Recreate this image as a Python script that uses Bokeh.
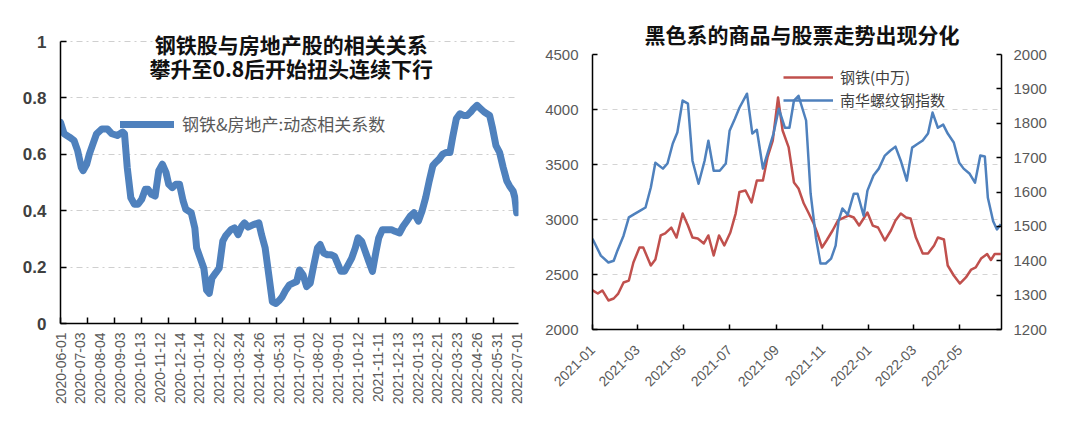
import math
import pandas as pd
from bokeh.plotting import figure
from bokeh.layouts import row
from bokeh.models import Range1d, LinearAxis, FixedTicker, Legend, LegendItem, Label
from bokeh.embed import file_html
from bokeh.resources import INLINE

# ---------------- left chart data ----------------
left_title = ["钢铁股与房地产股的相关关系", "攀升至0.8后开始扭头连续下行"]
left_series = "钢铁&房地产:动态相关系数"
# trading-day index (0 = 2020-06-01) and correlation value
left_days = [0, 4, 10, 15, 19, 23, 25, 29, 32, 36, 40, 46, 52, 57, 63, 69, 71, 74, 78, 82,
             86, 90, 94, 97, 101, 105, 109, 113, 117, 120, 124, 128, 132, 136, 139, 145, 149, 151, 155, 159,
             162, 165, 168, 172, 176, 180, 183, 189, 193, 197, 201, 204, 208, 214, 220, 223, 227, 231, 235, 239,
             243, 246, 250, 254, 258, 262, 265, 269, 273, 277, 281, 285, 288, 292, 296, 300, 304, 308, 311, 315,
             319, 323, 327, 330, 334, 338, 342, 346, 350, 353, 357, 361, 367, 371, 376, 380, 384, 388, 392, 395,
             397, 401, 405, 409, 413, 416, 420, 424, 428, 432, 435, 439, 443, 447, 451, 455, 458, 462, 466, 470,
             476, 479, 483, 487, 491, 495, 498, 502, 504, 506]
left_vals = [0.714, 0.673, 0.661, 0.649, 0.613, 0.554, 0.542, 0.565, 0.601, 0.637, 0.673, 0.690, 0.690, 0.673, 0.667, 0.679, 0.673, 0.554, 0.446, 0.423,
             0.423, 0.440, 0.476, 0.476, 0.458, 0.452, 0.542, 0.565, 0.536, 0.494, 0.482, 0.494, 0.494, 0.435, 0.405, 0.393, 0.339, 0.268, 0.232, 0.196,
             0.119, 0.107, 0.161, 0.179, 0.196, 0.292, 0.310, 0.333, 0.339, 0.315, 0.345, 0.357, 0.342, 0.351, 0.357, 0.315, 0.268, 0.173, 0.077, 0.071,
             0.083, 0.095, 0.119, 0.137, 0.143, 0.149, 0.190, 0.173, 0.131, 0.143, 0.208, 0.268, 0.280, 0.250, 0.244, 0.244, 0.238, 0.208, 0.185, 0.185,
             0.208, 0.232, 0.268, 0.304, 0.292, 0.256, 0.220, 0.185, 0.256, 0.304, 0.333, 0.333, 0.333, 0.327, 0.321, 0.345, 0.363, 0.381, 0.393, 0.375,
             0.363, 0.399, 0.446, 0.506, 0.560, 0.571, 0.583, 0.601, 0.607, 0.607, 0.661, 0.726, 0.744, 0.738, 0.738, 0.750, 0.762, 0.774, 0.762, 0.750,
             0.738, 0.696, 0.631, 0.607, 0.554, 0.506, 0.488, 0.470, 0.446, 0.393]
left_xlabels = ["2020-06-01", "2020-07-03", "2020-08-04", "2020-09-03", "2020-10-13", "2020-11-12",
                "2020-12-14", "2021-01-14", "2021-02-22", "2021-03-24", "2021-04-26", "2021-05-31",
                "2021-07-01", "2021-08-02", "2021-09-01", "2021-10-12", "2021-11-11", "2021-12-13",
                "2022-01-13", "2022-02-21", "2022-03-23", "2022-04-26", "2022-05-31", "2022-07-01"]
left_label_step = 22
left_tick_step = 30
left_yticks = [0, 0.2, 0.4, 0.6, 0.8, 1]
left_ylabels = ["0", "0.2", "0.4", "0.6", "0.8", "1"]

# ---------------- right chart data ----------------
right_title = "黑色系的商品与股票走势出现分化"
red_name = "钢铁(中万)"
blue_name = "南华螺纹钢指数"
red_dates = ["2021-01-01", "2021-01-08", "2021-01-14", "2021-01-22", "2021-01-29", "2021-02-04", "2021-02-11",
             "2021-02-18", "2021-02-24", "2021-03-04", "2021-03-09", "2021-03-19", "2021-03-25", "2021-04-01",
             "2021-04-07", "2021-04-15", "2021-04-22", "2021-04-30", "2021-05-07", "2021-05-13", "2021-05-20",
             "2021-05-28", "2021-06-03", "2021-06-10", "2021-06-17", "2021-06-24", "2021-07-02", "2021-07-09",
             "2021-07-14", "2021-07-22", "2021-07-30", "2021-08-06", "2021-08-14", "2021-08-20", "2021-08-27",
             "2021-09-03", "2021-09-09", "2021-09-17", "2021-09-24", "2021-09-30", "2021-10-07", "2021-10-13",
             "2021-10-20", "2021-10-25", "2021-10-31", "2021-11-06", "2021-11-14", "2021-11-21", "2021-11-29",
             "2021-12-05", "2021-12-12", "2021-12-19", "2021-12-25", "2021-12-30", "2022-01-06", "2022-01-13",
             "2022-01-22", "2022-01-30", "2022-02-05", "2022-02-12", "2022-02-19", "2022-02-25", "2022-03-04",
             "2022-03-13", "2022-03-20", "2022-03-28", "2022-04-02", "2022-04-10", "2022-04-15", "2022-04-23",
             "2022-05-01", "2022-05-09", "2022-05-16", "2022-05-22", "2022-05-29", "2022-06-06", "2022-06-11",
             "2022-06-16", "2022-06-24"]
red_vals = [2355, 2327, 2355, 2264, 2282, 2327, 2427, 2445, 2609, 2745,
            2745, 2582, 2636, 2855, 2873, 2927, 2836, 3054, 2945, 2836,
            2827, 2782, 2855, 2673, 2855, 2764, 2882, 3054, 3250, 3264,
            3155, 3355, 3355, 3564, 3718, 4109, 3809, 3655, 3336, 3282,
            3145, 3064, 2964, 2873, 2745, 2809, 2900, 2991, 3018, 3036,
            3018, 2945, 3009, 3064, 2945, 2927, 2809, 2900, 2991, 3054,
            3018, 3009, 2836, 2691, 2691, 2764, 2836, 2818, 2582, 2491,
            2418, 2473, 2545, 2564, 2645, 2686, 2632, 2686, 2686]
blue_dates = ["2021-01-01", "2021-01-12", "2021-01-22", "2021-01-29", "2021-02-03", "2021-02-11", "2021-02-18",
              "2021-02-24", "2021-03-05", "2021-03-12", "2021-03-19", "2021-03-25", "2021-04-04", "2021-04-10",
              "2021-04-17", "2021-04-23", "2021-04-30", "2021-05-07", "2021-05-13", "2021-05-21", "2021-05-29",
              "2021-06-03", "2021-06-10", "2021-06-18", "2021-06-26", "2021-07-01", "2021-07-08", "2021-07-14",
              "2021-07-24", "2021-07-31", "2021-08-06", "2021-08-14", "2021-08-20", "2021-08-28", "2021-09-04",
              "2021-09-12", "2021-09-18", "2021-09-24", "2021-09-30", "2021-10-10", "2021-10-16", "2021-10-23",
              "2021-10-29", "2021-11-05", "2021-11-12", "2021-11-18", "2021-11-22", "2021-11-27", "2021-12-04",
              "2021-12-12", "2021-12-17", "2021-12-25", "2021-12-30", "2022-01-07", "2022-01-14", "2022-01-22",
              "2022-01-29", "2022-02-05", "2022-02-12", "2022-02-20", "2022-02-27", "2022-03-05", "2022-03-13",
              "2022-03-20", "2022-03-26", "2022-04-02", "2022-04-09", "2022-04-15", "2022-04-23", "2022-04-30",
              "2022-05-06", "2022-05-14", "2022-05-21", "2022-05-28", "2022-06-03", "2022-06-07", "2022-06-14",
              "2022-06-19", "2022-06-24"]
blue_vals = [1464, 1415, 1395, 1400, 1430, 1473, 1526, 1534, 1546, 1555,
             1613, 1685, 1668, 1683, 1741, 1773, 1866, 1857, 1691, 1624,
             1691, 1749, 1662, 1662, 1683, 1778, 1813, 1845, 1886, 1770,
             1781, 1668, 1712, 1770, 1842, 1787, 1787, 1866, 1880, 1808,
             1595, 1467, 1392, 1392, 1406, 1444, 1517, 1552, 1534, 1595,
             1595, 1531, 1604, 1648, 1668, 1706, 1720, 1732, 1691, 1633,
             1729, 1738, 1750, 1770, 1831, 1787, 1796, 1770, 1744, 1686,
             1668, 1653, 1627, 1706, 1703, 1583, 1515, 1491, 1506]
right_xticks = ["2021-01", "2021-03", "2021-05", "2021-07", "2021-09", "2021-11", "2022-01", "2022-03", "2022-05"]
right_left_ticks = [2000, 2500, 3000, 3500, 4000, 4500]
right_right_ticks = [1200, 1300, 1400, 1500, 1600, 1700, 1800, 1900, 2000]

NUM_FONT = "Liberation Sans"
CJK_FONT = "Noto Sans CJK SC"
BLUE = "#4f81bd"
RED = "#c0504d"

# ================= left figure =================
n_days = left_days[-1]
y_top = left_yticks[-1]
p1 = figure(width=530, height=427, x_range=Range1d(0, n_days + 2), y_range=Range1d(0, y_top * 1.05),
            output_backend="svg", toolbar_location=None,
            min_border_left=60, min_border_right=12, min_border_top=27, min_border_bottom=104,
            outline_line_color=None)
p1.frame_align = False
p1.xgrid.visible = False
yt1 = FixedTicker(ticks=left_yticks)
p1.yaxis[0].ticker = yt1
p1.ygrid[0].ticker = yt1
p1.ygrid.grid_line_color = "#cfcfcf"
p1.ygrid.grid_line_dash = "6 4 2 4"
p1.ygrid.grid_line_width = 1.2

ya = p1.yaxis[0]
ya.bounds = (0, y_top)
ya.major_label_overrides = dict(zip(left_yticks, left_ylabels))
ya.major_tick_in = 6
ya.major_tick_out = 0
ya.minor_tick_line_color = None
ya.axis_line_color = "black"
ya.axis_line_width = 1.5
ya.major_tick_line_color = "black"
ya.major_tick_line_width = 1.5
ya.major_label_text_font = NUM_FONT
ya.major_label_text_font_size = "17px"
ya.major_label_text_font_style = "bold"
ya.major_label_text_color = "#404040"
ya.major_label_standoff = 14

label_days = [i * left_label_step for i in range(len(left_xlabels))]
tick_days = list(range(0, n_days + 1, left_tick_step))
xa = p1.xaxis[0]
xa.ticker = FixedTicker(ticks=label_days, minor_ticks=tick_days)
xa.major_label_overrides = dict(zip(label_days, left_xlabels))
xa.major_tick_in = 0
xa.major_tick_out = 0
xa.minor_tick_in = 6
xa.minor_tick_out = 0
xa.minor_tick_line_color = "black"
xa.minor_tick_line_width = 1.5
xa.axis_line_color = "black"
xa.axis_line_width = 1.5
xa.major_label_orientation = math.pi / 2
xa.major_label_standoff = 9
xa.major_label_text_font = NUM_FONT
xa.major_label_text_font_size = "14px"
xa.major_label_text_color = "#595959"

r_left = p1.line(left_days, left_vals, line_width=7, line_color=BLUE, line_join="round", line_cap="round")

leg1 = Legend(items=[LegendItem(label=left_series, renderers=[r_left])], location=(60, 187),
              glyph_width=54, glyph_height=22, label_height=22, label_standoff=8,
              padding=0, margin=0, border_line_color=None, background_fill_alpha=0,
              label_text_font=CJK_FONT, label_text_font_size="17px", label_text_color="#595959")
p1.add_layout(leg1)

# first title line hides the top gridline behind it; second line has no box
p1.add_layout(Label(x=256, y=0.993, text=left_title[0], text_align="center", text_baseline="middle",
                    text_font=CJK_FONT, text_font_style="bold", text_font_size="21px",
                    text_color="#111111", background_fill_color="white"))
p1.add_layout(Label(x=256, y=0.906, text=left_title[1], text_align="center", text_baseline="middle",
                    text_font=CJK_FONT, text_font_style="bold", text_font_size="21px",
                    text_color="#111111"))

# ================= right figure =================
p2 = figure(width=550, height=427, x_axis_type="datetime",
            x_range=Range1d(pd.Timestamp("2021-01-01"), pd.Timestamp("2022-06-25")),
            y_range=Range1d(right_left_ticks[0], right_left_ticks[-1]),
            output_backend="svg", toolbar_location=None,
            min_border_left=62, min_border_right=79, min_border_top=54, min_border_bottom=98,
            outline_line_color=None)
p2.frame_align = False
p2.extra_y_ranges = {"nh": Range1d(right_right_ticks[0], right_right_ticks[-1])}
p2.title.text = right_title
p2.title.align = "left"
p2.title.offset = 52
p2.title.text_font = CJK_FONT
p2.title.text_font_style = "bold"
p2.title.text_font_size = "21px"
p2.title.text_color = "#111111"
p2.title.standoff = 12

p2.xgrid.visible = False
yt2 = FixedTicker(ticks=right_left_ticks)
p2.yaxis[0].ticker = yt2
p2.ygrid[0].ticker = yt2
p2.ygrid.grid_line_color = "#d4d4d4"
p2.ygrid.grid_line_dash = "5 5"
p2.ygrid.grid_line_width = 1.2

red_x = pd.to_datetime(red_dates)
blue_x = pd.to_datetime(blue_dates)
r_red = p2.line(red_x, red_vals, line_width=2.5, line_color=RED, line_join="round")
r_blue = p2.line(blue_x, blue_vals, line_width=2.5, line_color=BLUE, line_join="round", y_range_name="nh")

ax_r = LinearAxis(y_range_name="nh", ticker=FixedTicker(ticks=right_right_ticks))
p2.add_layout(ax_r, "right")

for ax, standoff in [(p2.yaxis[0], 14), (ax_r, 12)]:
    ax.major_tick_in = 5
    ax.major_tick_out = 0
    ax.minor_tick_line_color = None
    ax.axis_line_color = "black"
    ax.axis_line_width = 1.5
    ax.major_tick_line_color = "black"
    ax.major_tick_line_width = 1.5
    ax.major_label_text_font = NUM_FONT
    ax.major_label_text_font_size = "15px"
    ax.major_label_text_color = "#595959"
    ax.major_label_standoff = standoff

tick_ms = [pd.Timestamp(s + "-01").value / 1e6 for s in right_xticks]
xa2 = p2.xaxis[0]
xa2.ticker = FixedTicker(ticks=tick_ms)
xa2.major_label_overrides = dict(zip(tick_ms, right_xticks))
xa2.major_tick_in = 5
xa2.major_tick_out = 0
xa2.minor_tick_line_color = None
xa2.axis_line_color = "black"
xa2.axis_line_width = 1.5
xa2.major_tick_line_color = "black"
xa2.major_tick_line_width = 1.5
xa2.major_label_orientation = math.pi / 4
xa2.major_label_standoff = 18
xa2.major_label_text_font = NUM_FONT
xa2.major_label_text_font_size = "14px"
xa2.major_label_text_color = "#595959"

leg2 = Legend(items=[LegendItem(label=red_name, renderers=[r_red]),
                     LegendItem(label=blue_name, renderers=[r_blue])],
              location=(191, 219), glyph_width=50, glyph_height=20, label_height=20,
              label_standoff=7, spacing=2, padding=0, margin=0,
              border_line_color=None, background_fill_alpha=0,
              label_text_font=CJK_FONT, label_text_font_size="15px", label_text_color="#404040")
p2.add_layout(leg2)

layout = row(p1, p2)
open("out.html", "w").write(file_html(layout, INLINE))
